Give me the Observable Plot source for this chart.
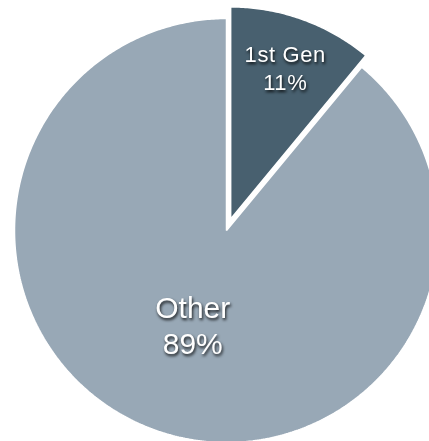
<!DOCTYPE html>
<html>
<head>
<meta charset="utf-8">
<script src="https://cdn.jsdelivr.net/npm/d3@7"></script>
<script src="https://cdn.jsdelivr.net/npm/@observablehq/plot@0.6"></script>
<style>
  html, body { margin: 0; padding: 0; background: #ffffff; }
  #chart svg { display: block; }
  #chart text { filter: drop-shadow(1px 2px 1.5px rgba(0,0,0,0.85)); }
  #chart .small-label text { letter-spacing: 0.6px; }
</style>
</head>
<body>
<div id="chart"></div>
<script>
// ---- data ----
const categories = ["1st Gen", "Other"];
const values = [11, 89];
const percentLabels = ["11%", "89%"];

// ---- styles / layout ----
const W = 429, H = 441;
const cx = 226, cy = 230, R = 212;          // pie center & radius (px)
const explode = [0.058, 0];                 // radial offset (radius units)
const labelRadius = [0.76, 0.47];
const colors = ["#48606f", "#98a8b6"];

const arcs = d3.pie().sort(null).value(d => d)(values);

const polyPts = [];
const labelPts = [];
arcs.forEach((a, i) => {
  const mid = (a.startAngle + a.endAngle) / 2;
  const ox = explode[i] * Math.sin(mid), oy = explode[i] * Math.cos(mid);
  polyPts.push({name: categories[i], x: ox, y: oy});
  const n = Math.max(4, Math.ceil((a.endAngle - a.startAngle) / 0.01));
  for (let k = 0; k <= n; k++) {
    const t = a.startAngle + (a.endAngle - a.startAngle) * k / n;
    polyPts.push({name: categories[i], x: ox + Math.sin(t), y: oy + Math.cos(t)});
  }
  labelPts.push({
    name: categories[i],
    text: categories[i] + "\n" + percentLabels[i],
    x: ox + labelRadius[i] * Math.sin(mid),
    y: oy + labelRadius[i] * Math.cos(mid)
  });
});

const chart = Plot.plot({
  width: W,
  height: H,
  margin: 0,
  style: {background: "#ffffff"},
  x: {domain: [-cx / R, (W - cx) / R], axis: null},
  y: {domain: [-(H - cy) / R, cy / R], axis: null},
  color: {domain: categories, range: colors},
  marks: [
    Plot.line(polyPts, {
      x: "x", y: "y", z: "name",
      fill: "name",
      stroke: "#ffffff",
      strokeWidth: 1.5,
      strokeLinejoin: "miter",
      curve: "linear-closed"
    }),
    Plot.text(labelPts.filter(d => d.name === "1st Gen"), {
      x: "x", y: "y", text: "text",
      fill: "#ffffff",
      fontSize: 22,
      lineHeight: 1.27,
      fontFamily: "Liberation Sans, Arial, Helvetica, sans-serif",
      textAnchor: "middle",
      className: "small-label"
    }),
    Plot.text(labelPts.filter(d => d.name === "Other"), {
      x: "x", y: "y", text: "text",
      fill: "#ffffff",
      fontSize: 30,
      lineHeight: 1.23,
      fontFamily: "Liberation Sans, Arial, Helvetica, sans-serif",
      textAnchor: "middle"
    })
  ]
});
document.getElementById("chart").appendChild(chart);
</script>
</body>
</html>
